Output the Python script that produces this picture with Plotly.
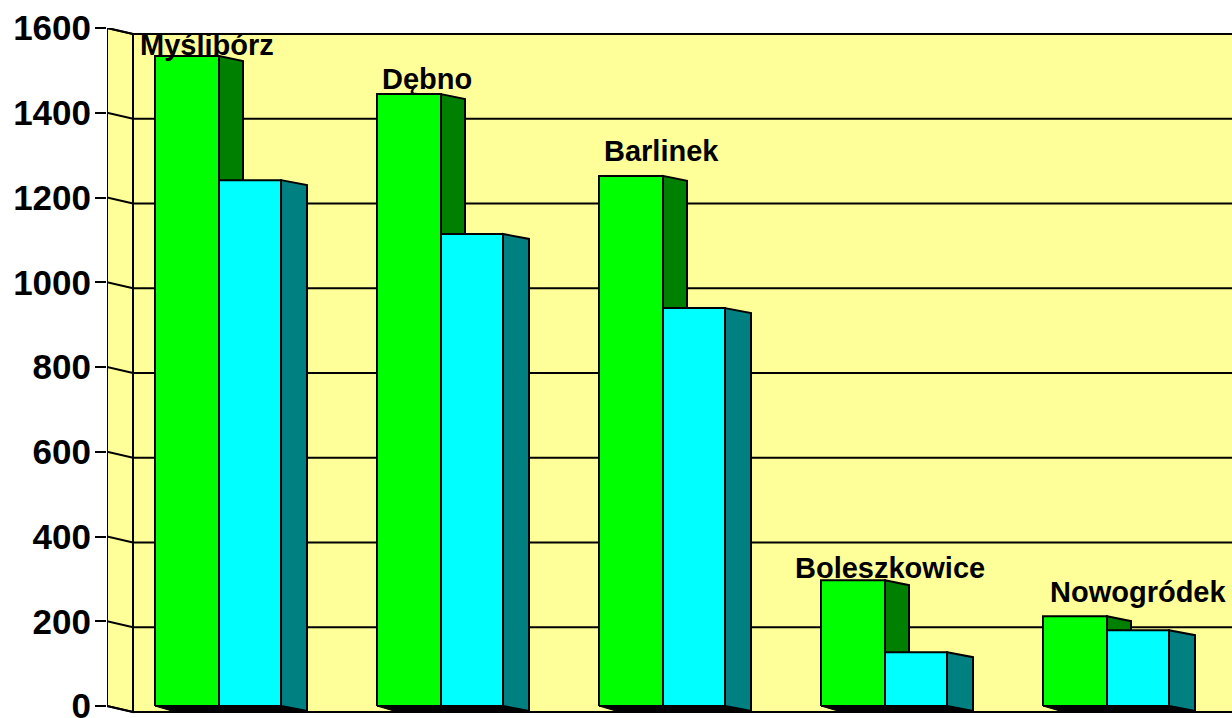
import plotly.graph_objects as go

CATEGORIES = ["Myślibórz", "Dębno", "Barlinek", "Boleszkowice", "Nowogródek"]
GREEN_VALUES = [1534, 1444, 1251, 297, 212]
CYAN_VALUES = [1241, 1114, 939, 127, 179]
TICK_VALUES = [0, 200, 400, 600, 800, 1000, 1200, 1400, 1600]

# geometry / style
GROUP_PX = 222.0
PX_PER_UNIT = 678 / 1600
GREEN_W = 64 / GROUP_PX
CYAN_W = 62 / GROUP_PX
DEPTH_X = 26 / GROUP_PX
DEPTH_Y = 6 / PX_PER_UNIT
GREEN_DEPTH_X = 24 / GROUP_PX
BAR_DEPTH_Y = 5 / PX_PER_UNIT
X_MIN = (107 - 219) / GROUP_PX
X_MAX = (1232 - 219) / GROUP_PX
FIG_HEIGHT = 740  # taller than the window so that the "0" label, cut by the page edge, stays drawn
TOP_MARGIN = 28
Y_MIN = -(FIG_HEIGHT - TOP_MARGIN - 678) / PX_PER_UNIT
LABEL_DX = [-12.5, -14, -2, 5, 31]
LABEL_DY = [11, 15, 25, 12, 24]

WALL = "#FFFF99"
GREEN = "#00FF00"
DARK_GREEN = "#008000"
CYAN = "#00FFFF"
DARK_CYAN = "#008080"
FONT = "Liberation Sans"

fig = go.Figure()


def poly(xs, ys, fill, lw=2):
    fig.add_trace(go.Scatter(
        x=xs, y=ys, mode="lines", fill="toself", fillcolor=fill,
        line=dict(color="black", width=lw), hoverinfo="skip",
        showlegend=False, cliponaxis=False))


# walls
top = TICK_VALUES[-1]
poly([X_MIN, X_MIN + DEPTH_X, X_MIN + DEPTH_X, X_MIN, X_MIN],
     [0, -DEPTH_Y, top - DEPTH_Y, top, 0], WALL)
poly([X_MIN + DEPTH_X, X_MAX + 0.05, X_MAX + 0.05, X_MIN + DEPTH_X, X_MIN + DEPTH_X],
     [-DEPTH_Y, -DEPTH_Y, top - DEPTH_Y, top - DEPTH_Y, -DEPTH_Y], WALL)

# gridlines: slanted on the side wall, horizontal on the back wall
gx, gy = [], []
for v in TICK_VALUES:
    gx += [X_MIN, X_MIN + DEPTH_X, X_MAX + 0.05, None]
    gy += [v, v - DEPTH_Y, v - DEPTH_Y, None]
fig.add_trace(go.Scatter(x=gx, y=gy, mode="lines", line=dict(color="black", width=2),
                         hoverinfo="skip", showlegend=False, cliponaxis=False))

# bars
for i, (g, c) in enumerate(zip(GREEN_VALUES, CYAN_VALUES)):
    left = i - GREEN_W
    right = i + CYAN_W
    # green side + front
    poly([i, i + GREEN_DEPTH_X, i + GREEN_DEPTH_X, i, i],
         [0, -BAR_DEPTH_Y, g - BAR_DEPTH_Y, g, 0], DARK_GREEN)
    poly([left, i, i, left, left], [0, 0, g, g, 0], GREEN)
    # floor shadow
    poly([left, left + 17 / GROUP_PX, right + DEPTH_X, right, left],
         [0, -BAR_DEPTH_Y, -BAR_DEPTH_Y, 0, 0], "black", 1)
    # cyan side + front
    poly([right, right + DEPTH_X, right + DEPTH_X, right, right],
         [0, -BAR_DEPTH_Y, c - BAR_DEPTH_Y, c, 0], DARK_CYAN)
    poly([i, right, right, i, i], [0, 0, c, c, 0], CYAN)

# labels
for i, name in enumerate(CATEGORIES):
    fig.add_annotation(
        x=i, y=GREEN_VALUES[i], text=name, showarrow=False, xanchor="center", yanchor="middle",
        xshift=LABEL_DX[i], yshift=LABEL_DY[i],
        font=dict(family=FONT, size=29, color="black", weight=700))

fig.update_layout(
    width=1232, height=FIG_HEIGHT, autosize=False,
    margin=dict(l=107, r=0, t=TOP_MARGIN, b=0, pad=0),
    paper_bgcolor="white", plot_bgcolor="rgba(0,0,0,0)",
    hovermode=False, showlegend=False,
    xaxis=dict(range=[X_MIN, X_MAX], visible=False, fixedrange=True),
    yaxis=dict(range=[Y_MIN, top], tickmode="array", tickvals=TICK_VALUES,
               ticktext=[str(v) for v in TICK_VALUES],
               ticks="outside", ticklen=11, tickwidth=2, tickcolor="black",
               showline=False, showgrid=False, ticklabelstandoff=-3,
               zeroline=False, fixedrange=True,
               tickfont=dict(family=FONT, size=35, color="black", weight=700)),
)

fig.write_html("out.html", config=dict(displayModeBar=False),
               post_script="document.documentElement.style.overflow='hidden';document.body.style.margin='0';document.body.style.overflow='hidden';")
